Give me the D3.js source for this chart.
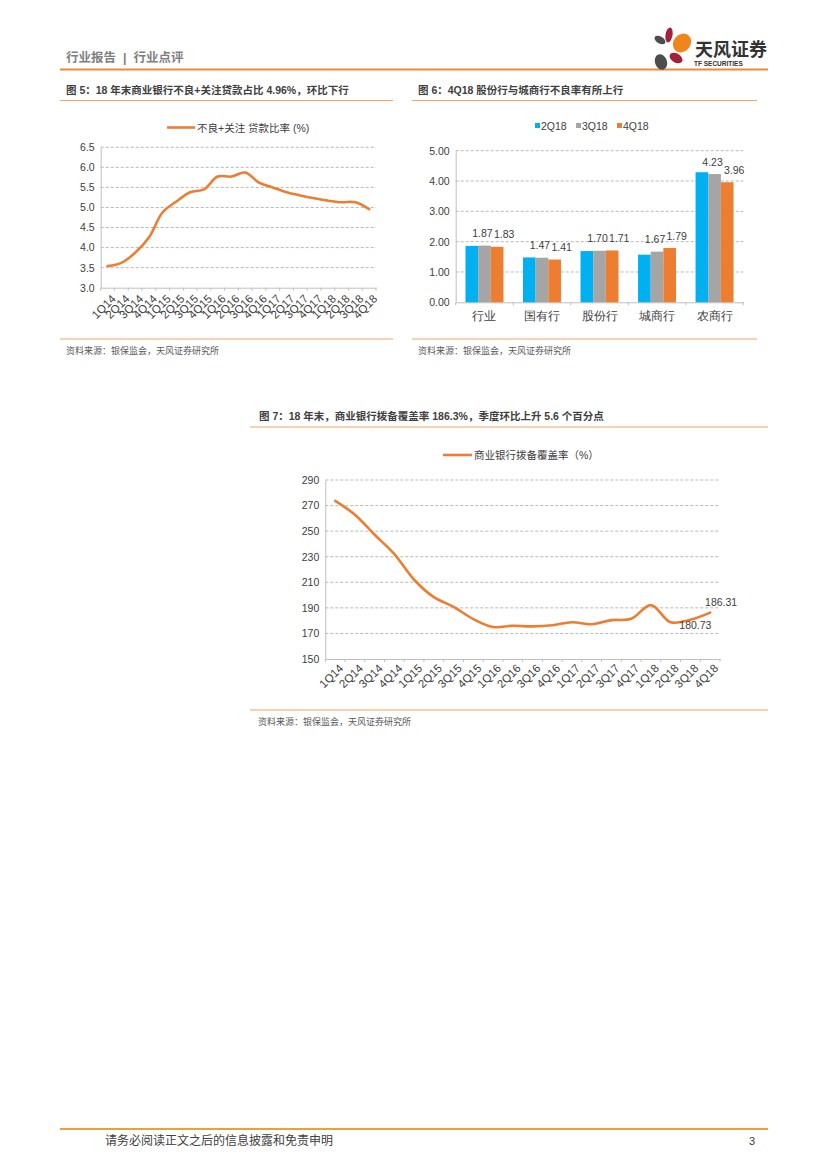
<!DOCTYPE html>
<html>
<head>
<meta charset="utf-8">
<script src="https://cdn.jsdelivr.net/npm/d3@7"></script>
<style>
  body { margin: 0; background: #fff; }
  svg { display: block; font-family: "Liberation Sans", Arial, "Noto Sans CJK SC", sans-serif; }
  .tick text { fill: #404040; }
</style>
</head>
<body>
<svg id="page" width="827" height="1169"></svg>
<script>
// quarters shared by the two line charts
const quarters = ['1Q14','2Q14','3Q14','4Q14','1Q15','2Q15','3Q15','4Q15','1Q16','2Q16',
  '3Q16','4Q16','1Q17','2Q17','3Q17','4Q17','1Q18','2Q18','3Q18','4Q18']

// fig 5: NPL + special mention ratio (%)
const nplSmlRatio = [3.54, 3.62, 3.87, 4.25, 4.88, 5.15, 5.38, 5.45, 5.77, 5.77,
  5.87, 5.62, 5.50, 5.38, 5.30, 5.23, 5.17, 5.13, 5.13, 4.96]
const fig5Ticks = [3.0, 3.5, 4.0, 4.5, 5.0, 5.5, 6.0, 6.5]

// fig 6: NPL ratio by bank type
const bankTypes = ['行业', '国有行', '股份行', '城商行', '农商行']
const barSeries = ['2Q18', '3Q18', '4Q18']
const npl2Q18 = [1.86, 1.48, 1.69, 1.57, 4.29]
const npl3Q18 = [1.87, 1.47, 1.70, 1.67, 4.23]
const npl4Q18 = [1.83, 1.41, 1.71, 1.79, 3.96]
const fig6Ticks = [0, 1, 2, 3, 4, 5]

// fig 7: provision coverage ratio (%)
const coverageRatio = [273.66, 262.88, 247.15, 232.06, 211.98, 198.39, 190.79, 181.18, 175.03, 175.96,
  175.52, 176.40, 178.76, 177.18, 180.39, 181.42, 192.17, 178.70, 180.73, 186.31]
const fig7Ticks = [150, 170, 190, 210, 230, 250, 270, 290]

const ORANGE = '#ED7D31'
const BAR_COLORS = ['#00B0F0', '#A5A5A5', '#ED7D31']
const GRID = '#A6A6A6'
const AXIS = '#BFBFBF'

const svg = d3.select('#page')

// ---- page frame ----
svg.append('text').attr('x', 66).attr('y', 62)
  .attr('font-size', 12.5).attr('font-weight', 'bold').attr('fill', '#7F7F7F')
  .attr('xml:space', 'preserve')
  .text('行业报告  |  行业点评')
svg.append('line').attr('x1', 60).attr('x2', 768).attr('y1', 69.5).attr('y2', 69.5)
  .attr('stroke', '#EE8A2F').attr('stroke-width', 2)

// logo petals
const logo = svg.append('g').attr('class', 'logo')
const petals = [
  {cx: 669, cy: 35, rx: 3.5, ry: 7.5, rot: 10, c: '#A3203A'},
  {cx: 660, cy: 40, rx: 6, ry: 3.5, rot: 30, c: '#4D4D4D'},
  {cx: 682, cy: 43, rx: 8.5, ry: 10, rot: 40, c: '#F0851C'},
  {cx: 676, cy: 58, rx: 7, ry: 4.5, rot: 30, c: '#A3203A'},
  {cx: 661, cy: 62, rx: 6, ry: 8, rot: -20, c: '#4D4D4D'}
]
logo.selectAll('ellipse').data(petals).enter().append('ellipse')
  .attr('cx', d => d.cx).attr('cy', d => d.cy)
  .attr('rx', d => d.rx).attr('ry', d => d.ry)
  .attr('transform', d => `rotate(${d.rot},${d.cx},${d.cy})`)
  .attr('fill', d => d.c)
logo.append('text').attr('x', 695).attr('y', 56)
  .attr('font-size', 18).attr('font-weight', 'bold').attr('fill', '#333')
  .attr('font-family', '"Noto Sans CJK SC", sans-serif')
  .text('天风证券')
logo.append('text').attr('x', 694).attr('y', 65.5)
  .attr('font-size', 6.5).attr('font-weight', 'bold').attr('fill', '#333')
  .text('TF SECURITIES')

svg.append('line').attr('x1', 60).attr('x2', 768).attr('y1', 1129).attr('y2', 1129)
  .attr('stroke', '#E9A23B').attr('stroke-width', 2)
svg.append('text').attr('x', 105).attr('y', 1145)
  .attr('font-size', 12).attr('fill', '#404040')
  .text('请务必阅读正文之后的信息披露和免责申明')
svg.append('text').attr('x', 755).attr('y', 1145).attr('text-anchor', 'end')
  .attr('font-size', 11).attr('fill', '#404040').text('3')

// ---- shared helpers ----
const caption = (x, y, x1, x2, text) => {
  svg.append('text').attr('x', x).attr('y', y)
    .attr('font-size', 10.5).attr('font-weight', 'bold').attr('fill', '#404040')
    .text(text)
  svg.append('line').attr('x1', x1).attr('x2', x2).attr('y1', y + 7).attr('y2', y + 7)
    .attr('stroke', '#F2A460').attr('stroke-width', 1)
}
const source = (x, y, x1, x2) => {
  svg.append('line').attr('x1', x1).attr('x2', x2).attr('y1', y - 15).attr('y2', y - 15)
    .attr('stroke', '#F2A460').attr('stroke-width', 1)
  svg.append('text').attr('x', x).attr('y', y)
    .attr('font-size', 9).attr('fill', '#595959')
    .text('资料来源：银保监会，天风证券研究所')
}

// dashed grid + left axis
const drawFrame = (g, x0, x1, y, ticks, fmt, fontSize) => {
  g.append('g').attr('class', 'grid')
    .selectAll('line').data(ticks.slice(1)).enter().append('line')
    .attr('x1', x0).attr('x2', x1)
    .attr('y1', d => y(d)).attr('y2', d => y(d))
    .attr('stroke', GRID).attr('stroke-dasharray', '3,2').attr('stroke-width', 0.8)
  const ya = g.append('g').attr('transform', `translate(${x0},0)`)
    .call(d3.axisLeft(y).tickValues(ticks).tickFormat(fmt).tickSize(0).tickPadding(6))
  ya.select('.domain').attr('stroke', AXIS)
  ya.selectAll('text').attr('font-size', fontSize)
}

// small tick marks on category boundaries
const boundaryTicks = (g, x, n, yBot) => {
  const start = x.range()[0]
  g.append('g').selectAll('line').data(d3.range(n + 1)).enter().append('line')
    .attr('x1', i => start + i * x.step()).attr('x2', i => start + i * x.step())
    .attr('y1', yBot).attr('y2', yBot + 3).attr('stroke', AXIS)
}

const lineChart = (opts) => {
  const {values, x0, x1, yTop, yBot, ticks, fmt} = opts
  const g = svg.append('g')
  const x = d3.scaleBand().domain(quarters).range([x0, x1])
  const y = d3.scaleLinear().domain([ticks[0], ticks[ticks.length - 1]]).range([yBot, yTop])
  drawFrame(g, x0, x1, y, ticks, fmt, opts.tickFont)

  const xa = g.append('g').attr('transform', `translate(0,${yBot})`)
    .call(d3.axisBottom(x).tickSize(0))
  xa.select('.domain').attr('stroke', AXIS)
  boundaryTicks(g, x, quarters.length, yBot)
  xa.selectAll('text')
    .attr('font-size', opts.labelFont)
    .attr('text-anchor', 'end')
    .attr('x', 0).attr('y', 0).attr('dy', '0.72em')
    .attr('transform', `translate(3,${opts.labelDrop}) rotate(-45)`)

  const line = d3.line()
    .x((d, i) => x(quarters[i]) + x.bandwidth() / 2)
    .y(d => y(d))
    .curve(d3.curveCatmullRom.alpha(0.5))
  g.append('path').datum(values)
    .attr('d', line).attr('fill', 'none')
    .attr('stroke', ORANGE).attr('stroke-width', 2.6).attr('stroke-linecap', 'round')

  // legend
  const lg = g.append('g').attr('transform', `translate(${opts.legendX},${opts.legendY})`)
  lg.append('line').attr('x1', 0).attr('x2', opts.legendLen).attr('y1', 0).attr('y2', 0)
    .attr('stroke', ORANGE).attr('stroke-width', 2.6)
  lg.append('text').attr('x', opts.legendLen + 2).attr('y', 4)
    .attr('font-size', 10.5).attr('fill', '#404040').text(opts.legendText)

  return {g, x, y}
}

// ---- figure 5 ----
caption(66, 93.5, 60, 393, '图 5：18 年末商业银行不良+关注贷款占比 4.96%，环比下行')
lineChart({
  values: nplSmlRatio, x0: 100.7, x1: 376, yTop: 147.3, yBot: 287.7,
  ticks: fig5Ticks, fmt: d3.format('.1f'), tickFont: 10.5, labelFont: 11.5, labelDrop: 6,
  legendX: 167, legendY: 127.5, legendLen: 28, legendText: '不良+关注 贷款比率 (%)'
})
source(66, 354, 60, 393)

// ---- figure 6 ----
caption(418, 93.5, 412, 757, '图 6：4Q18 股份行与城商行不良率有所上行')
{
  const g = svg.append('g')
  const x0 = 455.7, x1 = 743.3, yTop = 150.7, yBot = 302.3
  const x = d3.scaleBand().domain(bankTypes).range([x0, x1]).paddingInner(0.34).paddingOuter(0.17)
  const xs = d3.scaleBand().domain(barSeries).range([0, x.bandwidth()])
  const y = d3.scaleLinear().domain([0, 5]).range([yBot, yTop])
  drawFrame(g, x0, x1, y, fig6Ticks, d3.format('.2f'), 10.5)

  const xa = g.append('g').attr('transform', `translate(0,${yBot})`)
    .call(d3.axisBottom(x).tickSize(0).tickPadding(10))
  xa.select('.domain').attr('stroke', AXIS)
  xa.selectAll('text').attr('font-size', 11.5).attr('fill', '#404040')
  boundaryTicks(g, x, bankTypes.length, yBot)

  const seriesVals = [npl2Q18, npl3Q18, npl4Q18]
  const rows = bankTypes.flatMap((b, i) => barSeries.map((s, j) => ({b, s, j, v: seriesVals[j][i]})))
  g.append('g').selectAll('rect').data(rows).enter().append('rect')
    .attr('x', d => x(d.b) + xs(d.s))
    .attr('width', xs.bandwidth())
    .attr('y', d => y(d.v))
    .attr('height', d => yBot - y(d.v))
    .attr('fill', d => BAR_COLORS[d.j])

  // labels only shown for 3Q18 and 4Q18; nudge 4Q18 right if it would collide
  g.append('g').selectAll('text').data(rows.filter(d => d.j > 0)).enter().append('text')
    .attr('x', d => {
      const cx = x(d.b) + xs(d.s) + xs.bandwidth() / 2
      if (d.j === 2) {
        const i = bankTypes.indexOf(d.b)
        const gap = Math.abs(y(npl3Q18[i]) - y(npl4Q18[i]))
        return gap < 10 ? cx + 7 : cx
      }
      return cx - 2
    })
    .attr('y', d => y(d.v) - 8.5)
    .attr('text-anchor', 'middle')
    .attr('font-size', 10.5).attr('fill', '#404040')
    .text(d => d3.format('.2f')(d.v))

  const lg = g.append('g').attr('transform', 'translate(535,129.5)')
  const items = lg.selectAll('g').data(barSeries).enter().append('g')
    .attr('transform', (d, i) => `translate(${i * 41},0)`)
  items.append('rect').attr('x', 0).attr('y', -6.5).attr('width', 5).attr('height', 5)
    .attr('fill', (d, i) => BAR_COLORS[i])
  items.append('text').attr('x', 6).attr('y', 0)
    .attr('font-size', 10.5).attr('fill', '#404040').text(d => d)
}
source(418, 354, 412, 757)

// ---- figure 7 ----
caption(259, 420, 250, 768, '图 7：18 年末，商业银行拨备覆盖率 186.3%，季度环比上升 5.6 个百分点')
{
  const {g, x, y} = lineChart({
    values: coverageRatio, x0: 325.3, x1: 720, yTop: 480, yBot: 659,
    ticks: fig7Ticks, fmt: d3.format('d'), tickFont: 10.5, labelFont: 11.5, labelDrop: 4,
    legendX: 443, legendY: 455, legendLen: 29, legendText: '商业银行拨备覆盖率（%）'
  })
  const px = i => x(quarters[i]) + x.bandwidth() / 2
  const n = quarters.length
  g.append('text').attr('x', px(n - 2) + 5).attr('y', y(coverageRatio[n - 2]) + 9)
    .attr('text-anchor', 'middle').attr('font-size', 10.5).attr('fill', '#404040')
    .text(d3.format('.2f')(coverageRatio[n - 2]))
  g.append('text').attr('x', px(n - 1) + 11).attr('y', y(coverageRatio[n - 1]) - 7)
    .attr('text-anchor', 'middle').attr('font-size', 10.5).attr('fill', '#404040')
    .text(d3.format('.2f')(coverageRatio[n - 1]))
}
source(258, 725, 250, 768)
</script>
</body>
</html>
